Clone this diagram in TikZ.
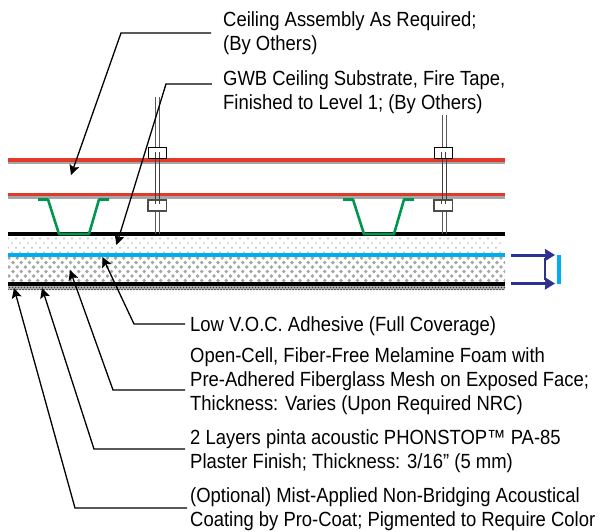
\documentclass[tikz,border=0pt]{standalone}
\usepackage{fontspec}
\setmainfont[FakeStretch=0.9]{Liberation Sans}
\usetikzlibrary{positioning,arrows.meta}
\definecolor{myred}{RGB}{224,58,42}
\definecolor{mygreen}{RGB}{0,150,80}
\definecolor{myblue}{RGB}{0,174,239}
\definecolor{mynavy}{RGB}{46,49,146}
\tikzset{
  lab/.style={inner sep=0pt,anchor=west,align=left,font=\fontsize{20.5}{23.8}\selectfont},
  leader/.style={-{Stealth[length=10pt,width=10pt,inset=2pt]},line width=1.3pt},
  cliptop/.style={draw=black,fill=white,line width=1pt},
  clipbot/.style={draw=black!70,fill=white,line width=1.2pt},
  hat/.style={mygreen,line width=2.6pt,line join=round},
  section/.style={-{Stealth[length=10pt,width=12pt,inset=0.5pt]},mynavy,line width=3pt},
}
\begin{document}
\begin{tikzpicture}[x=1pt,y=-1pt]
\useasboundingbox (0,0) rectangle (602,531);

% layers
\foreach \y in {160,194.5} {
  \draw[black!35,line width=2.6pt] (8,\y+3) -- (505,\y+3);
  \draw[myred,line width=3.6pt] (8,\y) -- (505,\y);
}
\begin{scope}
\clip (8,236) rectangle (505,253);
\foreach \r in {0,...,3} \foreach \i in {0,...,61} {
  \fill[black!22] ({8+\i*8+mod(\r,2)*4},{238.5+\r*4.6}) circle (1.1);
}
\end{scope}
\begin{scope}
\clip (8,257) rectangle (505,282);
\foreach \r in {0,...,5} \foreach \i in {0,...,61} {
  \fill[black!35] ({9+\i*8.2+mod(\r,2)*4.1},{258+\r*4.5}) circle (1.9);
}
\end{scope}
\begin{scope}
\clip (8,285) rectangle (505,291);
\fill[black!25] (8,285) rectangle (505,290);
\foreach \r in {0,1,2} \foreach \i in {0,...,165} {
  \fill[black!75] ({8+\i*3+mod(\r,2)*1.5},{285.5+\r*2}) circle (0.8);
}
\end{scope}
\draw[line width=3.4pt] (8,234) -- (505,234);
\draw[myblue,line width=3.8pt] (8,255) -- (505,255);
\draw[line width=3.4pt] (8,284) -- (505,284);

% hangers
\foreach \x/\t in {155/97,442/115} {
  \foreach \d in {0,4.5} {
    \draw[black!65,line width=0.9pt] (\x+\d,\t) -- (\x+\d,147);
    \draw[black!75,line width=0.9pt] (\x+\d,152) -- (\x+\d,203);
    \draw[black!65,line width=0.9pt] (\x+\d,211) -- (\x+\d,234);
  }
}
\foreach \x in {148,434} {
  \draw[cliptop] (\x,147) rectangle (\x+18,158);
  \draw[clipbot] (\x,200) rectangle (\x+18.5,211);
  \foreach \d in {7,11.5} {
    \draw[black!75,line width=0.9pt] (\x+\d,152) -- (\x+\d,158);
    \draw[black!75,line width=0.9pt] (\x+\d,200) -- (\x+\d,203.5);
  }
}

% furring channels
\foreach \x in {38,343} {
  \draw[hat] (\x,199.5) -- (\x+10,199.5) -- (\x+21,234) -- (\x+51,234) -- (\x+61,199.5) -- (\x+71,199.5);
}

% section mark
\coordinate (s1) at (511,255);
\coordinate (s2) at (555,255);
\coordinate (s3) at (511,283.5);
\coordinate (s4) at (555,283.5);
\draw[section] (s1) -- (s2);
\draw[section] (s3) -- (s4);
\draw[mynavy,line width=1.8pt] (545,258) -- (545,280);
\draw[myblue,line width=3.4pt] (559,255) -- (559,283.5);

% labels
\node[lab] (ceil) at (223,33.5) {Ceiling Assembly As Required;\\(By Others)};
\node[lab,below=15pt of ceil.south west,anchor=north west] (gwb) {GWB Ceiling Substrate, Fire Tape,\\Finished to Level 1; (By Others)};
\node[lab] (voc) at (190,326) {Low V.O.C. Adhesive (Full Coverage)};
\node[lab,below=12pt of voc.south west,anchor=north west] (foam) {Open-Cell, Fiber-Free Melamine Foam with\\Pre-Adhered Fiberglass Mesh on Exposed Face;\\Thickness: Varies (Upon Required NRC)};
\node[lab,below=15pt of foam.south west,anchor=north west] (plaster) {2 Layers pinta acoustic PHONSTOP™ PA-85\\Plaster Finish; Thickness: 3/16” (5 mm)};
\node[lab,below=14pt of plaster.south west,anchor=north west] (coat) {(Optional) Mist-Applied Non-Bridging Acoustical\\Coating by Pro-Coat; Pigmented to Require Color};

% leaders
\coordinate (e1) at (121,33);    \coordinate (t1) at (71,175);
\coordinate (e2) at (166,84);    \coordinate (t2) at (116.5,245);
\coordinate (e3) at (134,324);   \coordinate (t3) at (102.5,257);
\coordinate (e4) at (113,390);   \coordinate (t4) at (70,270);
\coordinate (e5) at (94,449);    \coordinate (t5) at (42,288);
\coordinate (e6) at (75,508);    \coordinate (t6) at (14,288);
\draw[leader] ([xshift=-12pt]ceil.west |- e1) -- (e1) -- (t1);
\draw[leader] ([xshift=-11pt]gwb.west |- e2) -- (e2) -- (t2);
\draw[leader] ([xshift=-5pt]voc.west |- e3) -- (e3) -- (t3);
\draw[leader] ([xshift=-5pt]foam.west |- e4) -- (e4) -- (t4);
\draw[leader] ([xshift=-5pt]plaster.west |- e5) -- (e5) -- (t5);
\draw[leader] ([xshift=-3pt]coat.west |- e6) -- (e6) -- (t6);
\end{tikzpicture}
\end{document}
